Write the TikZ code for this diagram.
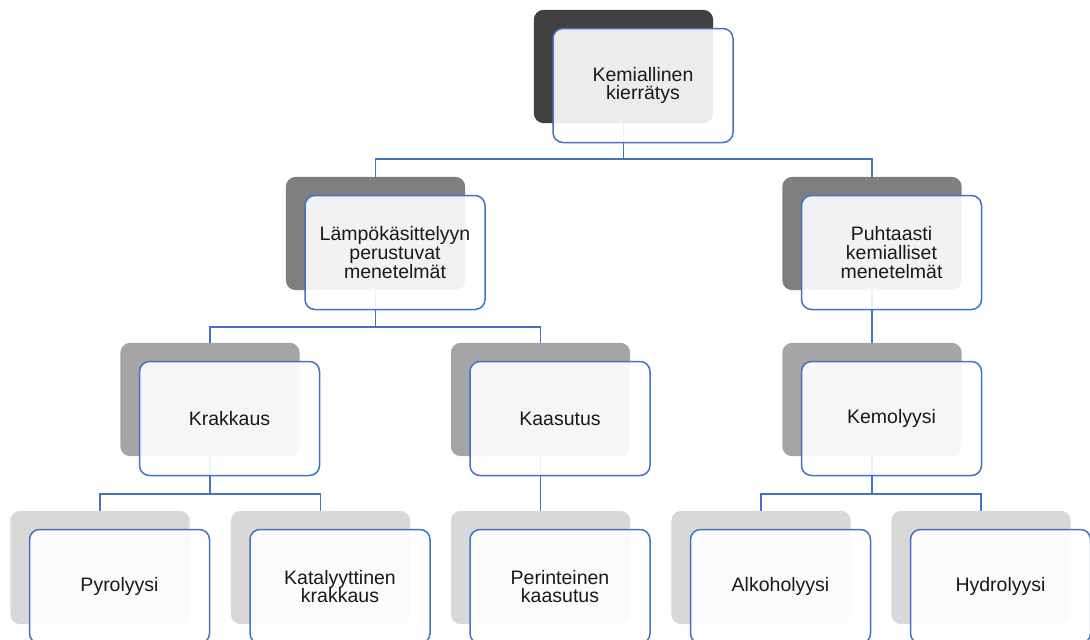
\documentclass[tikz,border=0pt]{standalone}
\usepackage{fontspec}
\setmainfont{Liberation Sans}
\usetikzlibrary{calc}
\definecolor{lineblue}{HTML}{4472C4}
\definecolor{lvA}{HTML}{404040}
\definecolor{lvB}{HTML}{7F7F7F}
\definecolor{lvC}{HTML}{A5A5A5}
\definecolor{lvD}{HTML}{D8D8D8}
\begin{document}
\begin{tikzpicture}[x=1pt,y=-1pt,
  back/.style={rectangle, rounded corners=10pt, minimum width=179pt, minimum height=113pt, inner sep=0pt},
  front/.style={rectangle, rounded corners=10pt, draw=lineblue, line width=1.5pt, fill=white, fill opacity=0.9, text opacity=1, minimum width=180pt, minimum height=114pt, inner sep=0pt, align=center, text=black!90, font=\fontsize{19.5}{18.9}\selectfont},
  conn/.style={draw=lineblue, line width=1.5pt}]
\useasboundingbox (0,0) rectangle (1090,640);
\clip (0,0) rectangle (1090,640);
% back shapes (positions)
\coordinate (p1) at (623.5,66.5);
\coordinate (p2a) at (375.5,233.5);
\coordinate (p2b) at (872,233.5);
\coordinate (p3a) at (210,399.5);
\coordinate (p3b) at (540.5,399.5);
\coordinate (p3c) at (872,399.5);
\coordinate (p4a) at (100,567.5);
\coordinate (p4b) at (320.5,567.5);
\coordinate (p4c) at (540.5,567.5);
\coordinate (p4d) at (761,567.5);
\coordinate (p4e) at (981,567.5);
% invisible back nodes for connectors
\foreach \n in {1,2a,2b,3a,3b,3c,4a,4b,4c,4d,4e}{\node[back] (b\n) at (p\n) {};}
% connectors
\draw[conn] (b1.south) -- ++(0,36) -| (b2a.north);
\draw[conn] (b1.south) -- ++(0,36) -| (b2b.north);
\draw[conn] (b2a.south) -- ++(0,37) -| (b3a.north);
\draw[conn] (b2a.south) -- ++(0,37) -| (b3b.north);
\draw[conn] (b2b.south) -- (b3c.north);
\draw[conn] (b3a.south) -- ++(0,38) -| (b4a.north);
\draw[conn] (b3a.south) -- ++(0,38) -| (b4b.north);
\draw[conn] (b3b.south) -- (b4c.north);
\draw[conn] (b3c.south) -- ++(0,38) -| (b4d.north);
\draw[conn] (b3c.south) -- ++(0,38) -| (b4e.north);
% back fills
\fill[lvA, rounded corners=10pt] (b1.south west) rectangle (b1.north east);
\foreach \n in {2a,2b}{\fill[lvB, rounded corners=10pt] (b\n.south west) rectangle (b\n.north east);}
\foreach \n in {3a,3b,3c}{\fill[lvC, rounded corners=10pt] (b\n.south west) rectangle (b\n.north east);}
\foreach \n in {4a,4b,4c,4d,4e}{\fill[lvD, rounded corners=10pt] (b\n.south west) rectangle (b\n.north east);}
% front shapes
\node[front] (f1) at ($(p1)+(19.5,19)$) {Kemiallinen\\kierrätys};
\node[front] (f2a) at ($(p2a)+(19.5,19)$) {Lämpökäsittelyyn\\perustuvat\\menetelmät};
\node[front] (f2b) at ($(p2b)+(19.5,19)$) {Puhtaasti\\kemialliset\\menetelmät};
\node[front] (f3a) at ($(p3a)+(19.5,19)$) {Krakkaus};
\node[front] (f3b) at ($(p3b)+(19.5,19)$) {Kaasutus};
\node[front] (f3c) at ($(p3c)+(19.5,19)$) {Kemolyysi};
\node[front] (f4a) at ($(p4a)+(19.5,19)$) {Pyrolyysi};
\node[front] (f4b) at ($(p4b)+(19.5,19)$) {Katalyyttinen\\krakkaus};
\node[front] (f4c) at ($(p4c)+(19.5,19)$) {Perinteinen\\kaasutus};
\node[front] (f4d) at ($(p4d)+(19.5,19)$) {Alkoholyysi};
\node[front] (f4e) at ($(p4e)+(19.5,19)$) {Hydrolyysi};
\end{tikzpicture}
\end{document}
